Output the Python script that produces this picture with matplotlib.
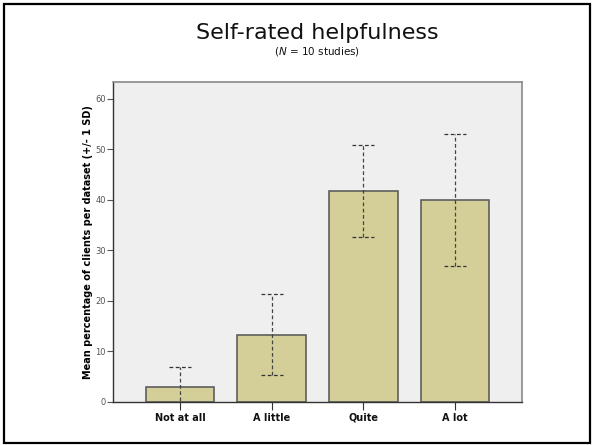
import matplotlib
matplotlib.use("Agg")
import matplotlib.pyplot as plt
from matplotlib.patches import Rectangle

# Helpfulness ratings: mean share of clients per dataset and its SD
categories = ["Not at all", "A little", "Quite", "A lot"]
means = [2.9, 13.2, 41.7, 39.9]
sds = [3.9, 8.0, 9.2, 13.0]

BAR_COLOR = "#d4cf98"
EDGE_COLOR = "#5e5e5e"
BG_COLOR = "#efefef"

fig = plt.figure(figsize=(5.92, 4.45), dpi=100)
ax = fig.add_axes([113 / 592, 43.5 / 445, 409 / 592, 319.5 / 445])
ax.set_facecolor(BG_COLOR)

x = list(range(len(categories)))
ax.bar(x, means, width=0.75, color=BAR_COLOR, edgecolor=EDGE_COLOR, linewidth=1.2, zorder=2)

# dashed +/- 1 SD whiskers with dashed caps
cap = 0.12
for xi, m, s in zip(x, means, sds):
    lo, hi = m - s, m + s
    ax.plot([xi, xi], [lo, hi], color="#444444", lw=0.9, ls=(0, (3, 2)), zorder=3)
    for yv in (lo, hi):
        ax.plot([xi - cap, xi + cap], [yv, yv], color="#333333", lw=0.9, ls=(0, (3, 2)), zorder=3)

ax.set_xlim(-0.73, 3.73)
ax.set_ylim(0, 63.3)
ax.set_yticks([0, 10, 20, 30, 40, 50, 60])
ax.set_xticks(x)
ax.set_xticklabels(categories, fontsize=7, fontweight="bold", color="#111111")
ax.tick_params(axis="y", labelsize=6, labelcolor="#555555", color="#555555", length=4, width=0.8, pad=1)
ax.tick_params(axis="x", color="#333333", length=6, width=0.8, pad=2)

for side in ("left", "bottom"):
    ax.spines[side].set_color("#333333")
    ax.spines[side].set_linewidth(1.0)
for side in ("top", "right"):
    ax.spines[side].set_color("#8a8a8a")
    ax.spines[side].set_linewidth(1.2)

ax.set_ylabel("Mean percentage of clients per dataset (+/- 1 SD)", fontsize=7, fontweight="bold", labelpad=2)

fig.text(317.5 / 592, 1 - 33 / 445, "Self-rated helpfulness", ha="center", va="center", fontsize=16, color="#111111")
fig.text(317.5 / 592, 1 - 51 / 445, r"($\it{N}$ = 10 studies)", ha="center", va="center", fontsize=7.5, color="#111111")

# slide frame
fig.patches.append(Rectangle((4 / 592, 2 / 445), 586 / 592, 439 / 445, transform=fig.transFigure,
                             fill=False, edgecolor="black", linewidth=1.6))

fig.savefig("out.png", dpi=100)
